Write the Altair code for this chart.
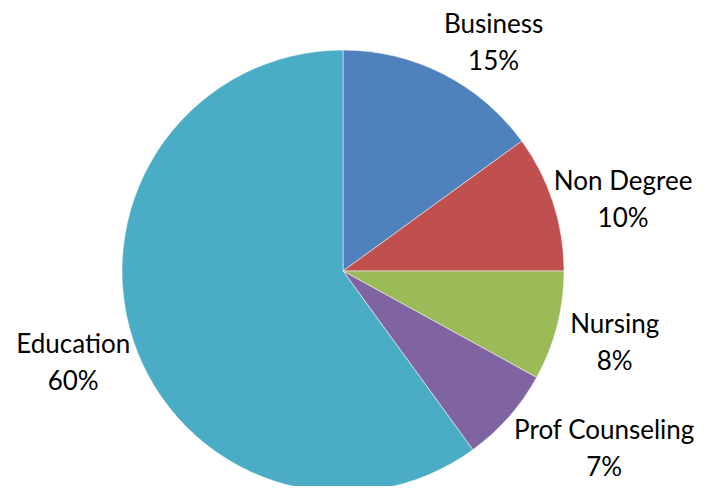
import altair as alt
import pandas as pd

categories = ["Business", "Non Degree", "Nursing", "Prof Counseling", "Education"]
percents = [15, 10, 8, 7, 60]
colors = ["#4F81BD", "#C0504D", "#9BBB59", "#8064A2", "#4BACC6"]

df = pd.DataFrame({
    "category": categories,
    "value": percents,
    "order": list(range(len(categories))),
})
df["label"] = [f"{c}\n{v}%" for c, v in zip(categories, percents)]

CX, CY = 335, 263

pie = alt.Chart(df).mark_arc(outerRadius=221, stroke="white", strokeWidth=0.5).encode(
    theta=alt.Theta("value:Q", stack=True),
    order=alt.Order("order:Q"),
    x=alt.value(CX),
    y=alt.value(CY),
    color=alt.Color("category:N", scale=alt.Scale(domain=categories, range=colors), legend=None),
)

label_style = {
    "Business": (273, 0.113),
    "Non Degree": (289, 0.065),
    "Nursing": (281, 0.007),
    "Prof Counseling": (316, -0.125),
    "Education": (285, -0.014),
}

label_base = (
    alt.Chart(df)
    .transform_window(cum="sum(value)", sort=[alt.SortField("order")], frame=[None, 0])
    .transform_joinaggregate(total="sum(value)")
    .transform_calculate(mid="(datum.cum - datum.value / 2) / datum.total")
    .encode(
        theta=alt.Theta("mid:Q", stack=False, scale=alt.Scale(domain=[0, 1], range=[0, 6.283185307])),
        x=alt.value(CX),
        y=alt.value(CY),
        text="label:N",
    )
)

layers = [pie]
for cat in categories:
    r, off = label_style[cat]
    layers.append(
        label_base.mark_text(
            radius=r, thetaOffset=off, lineBreak="\n", fontSize=26, lineHeight=37,
            font="Lato", color="#000000", align="center", baseline="middle", dy=-18,
        ).transform_filter(alt.datum.category == cat)
    )

chart = alt.layer(*layers).resolve_scale(theta="independent").properties(
    width=688, height=478, padding=0, autosize=alt.AutoSizeParams(type="none")
).configure_view(stroke=None)

chart.save("out.html", embed_options={"renderer": "svg", "actions": False})
